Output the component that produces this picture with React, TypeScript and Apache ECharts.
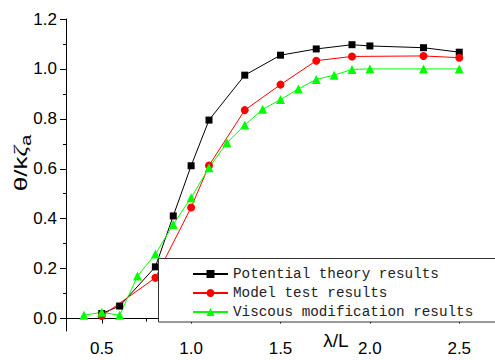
import React, { useEffect, useRef } from "react";
import * as echarts from "echarts";

const potentialX = [0.5, 0.6, 0.8, 0.9, 1.0, 1.1, 1.3, 1.5, 1.7, 1.9, 2.0, 2.3, 2.5];
const potentialY = [0.02, 0.05, 0.207, 0.411, 0.612, 0.795, 0.975, 1.055, 1.08, 1.097, 1.092, 1.085, 1.067];

const modelX = [0.5, 0.8, 1.0, 1.1, 1.3, 1.5, 1.7, 1.9, 2.3, 2.5];
const modelY = [0.01, 0.163, 0.445, 0.613, 0.835, 0.937, 1.033, 1.05, 1.052, 1.045];

const viscousX = [0.4, 0.5, 0.6, 0.7, 0.8, 0.9, 1.0, 1.1, 1.2, 1.3, 1.4, 1.5, 1.6, 1.7, 1.8, 1.9, 2.0, 2.3, 2.5];
const viscousY = [0.013, 0.025, 0.013, 0.17, 0.258, 0.377, 0.484, 0.604, 0.704, 0.775, 0.838, 0.877, 0.92, 0.958, 0.975, 0.998, 1.0, 1.0, 1.0];

const seriesNames = ["Potential theory results", "Model test results", "Viscous modification results"];

const xMajorTicks = [0.5, 1.0, 1.5, 2.0, 2.5];
const xMinorTicks = [0.75, 1.25, 1.75, 2.25];
const yMajorTicks = [0.0, 0.2, 0.4, 0.6, 0.8, 1.0, 1.2];
const yMinorTicks = [0.1, 0.3, 0.5, 0.7, 0.9, 1.1];

const xName = "λ/L";

const pair = (xs: number[], ys: number[]) => xs.map((x, i) => [x, ys[i]]);

export default function App() {
  const ref = useRef<HTMLDivElement>(null);
  useEffect(() => {
    if (!ref.current) return;
    const chart = echarts.init(ref.current, undefined, { renderer: "svg" });
    const labelFont = { fontFamily: "Arial", fontSize: 17, color: "#000" };
    const xMin = 0.3, xMax = 2.7, yMin = -0.05, yMax = 1.2;
    chart.setOption({
      animation: false,
      backgroundColor: "#fff",
      grid: { left: 66, top: 19, right: 0, bottom: 29, containLabel: false },
      xAxis: [
        {
          type: "value", min: xMin, max: xMax, position: "bottom",
          splitLine: { show: false },
          axisLine: { show: true, lineStyle: { color: "#000", width: 1 } },
          axisTick: { show: true, length: 5, customValues: xMajorTicks, lineStyle: { color: "#000" } },
          axisLabel: { ...labelFont, margin: 9, customValues: xMajorTicks, formatter: (v: number) => v.toFixed(1) },
        },
        {
          type: "value", min: xMin, max: xMax, position: "bottom",
          splitLine: { show: false },
          axisLine: { show: false },
          axisTick: { show: true, length: 3, customValues: xMinorTicks, lineStyle: { color: "#000" } },
          axisLabel: { show: false },
        },
      ],
      yAxis: [
        {
          type: "value", min: yMin, max: yMax, position: "left",
          splitLine: { show: false },
          axisLine: { show: true, lineStyle: { color: "#000", width: 1 } },
          axisTick: { show: true, length: 6, customValues: yMajorTicks, lineStyle: { color: "#000" } },
          axisLabel: { ...labelFont, margin: 9, customValues: yMajorTicks, formatter: (v: number) => v.toFixed(1) },
        },
        {
          type: "value", min: yMin, max: yMax, position: "left",
          splitLine: { show: false },
          axisLine: { show: false },
          axisTick: { show: true, length: 3, customValues: yMinorTicks, lineStyle: { color: "#000" } },
          axisLabel: { show: false },
        },
      ],
      legend: {
        orient: "vertical",
        left: 192,
        top: 267,
        padding: 0,
        itemWidth: 35,
        itemHeight: 10,
        itemGap: 5,
        z: 11,
        textStyle: { fontFamily: "'Liberation Mono', 'Courier New', monospace", fontSize: 14.3, color: "#222" },
        data: seriesNames,
      },
      graphic: [
        {
          type: "rect", z: 10,
          shape: { x: 158.5, y: 258.5, width: 400, height: 63.5 },
          style: { fill: "#fff", stroke: "#333", lineWidth: 1 },
        },
        {
          type: "text", x: 336, y: 340, z: 10,
          style: { text: xName, fill: "#000", font: "19px Arial", align: "center", verticalAlign: "middle" },
        },
        {
          type: "text", x: 21, y: 163, rotation: Math.PI / 2, scaleX: 1.45, z: 10,
          style: {
            text: "θ/k{z|ζ}{a|a}",
            fill: "#000",
            fontFamily: "Arial",
            fontSize: 18,
            align: "center",
            verticalAlign: "middle",
            rich: {
              z: { fontSize: 18, fontStyle: "italic", fontFamily: "'Liberation Serif', serif" },
              a: { fontSize: 14, verticalAlign: "bottom", padding: [10, 0, 0, 0] },
            },
          },
        },
      ],
      series: [
        {
          name: seriesNames[0], type: "line", data: pair(potentialX, potentialY),
          symbol: "rect", symbolSize: 7, color: "#000",
          lineStyle: { color: "#000", width: 1 }, itemStyle: { color: "#000" },
        },
        {
          name: seriesNames[1], type: "line", data: pair(modelX, modelY),
          symbol: "circle", symbolSize: 8, color: "#ff0000",
          lineStyle: { color: "#ff0000", width: 1 }, itemStyle: { color: "#ff0000" },
        },
        {
          name: seriesNames[2], type: "line", data: pair(viscousX, viscousY),
          symbol: "triangle", symbolSize: 9, color: "#00ff00",
          lineStyle: { color: "#00ff00", width: 1 }, itemStyle: { color: "#00ff00" },
        },
      ],
    });
    return () => chart.dispose();
  }, []);
  return <div ref={ref} style={{ position: "absolute", left: 0, top: 0, width: 495, height: 360 }} />;
}
